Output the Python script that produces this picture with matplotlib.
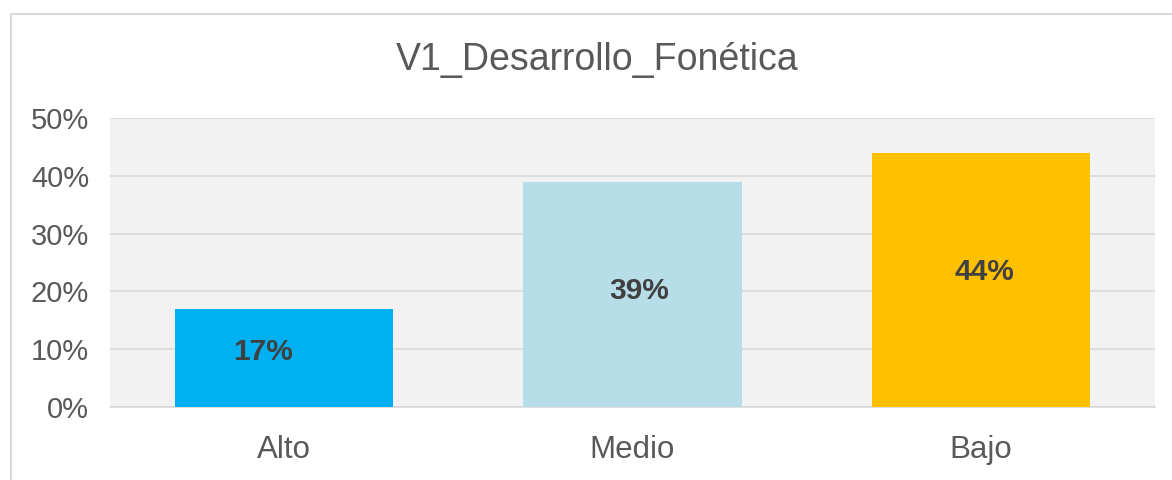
import matplotlib
matplotlib.use("Agg")
import matplotlib.pyplot as plt
from matplotlib.patches import Rectangle
from matplotlib.ticker import PercentFormatter

categories = ["Alto", "Medio", "Bajo"]
values = [17, 39, 44]
bar_colors = ["#00B0F0", "#B7DEE8", "#FFC000"]
title = "V1_Desarrollo_Fonética"

plt.rcParams['font.family'] = ['Liberation Sans', 'DejaVu Sans']

fig = plt.figure(figsize=(11.72, 4.8), dpi=100)
fig.patch.set_facecolor("white")
ax = fig.add_axes([110/1172, 1-407/480, (1155-110)/1172, (407-118)/480])
ax.set_facecolor("#F2F2F2")

x = range(len(categories))
bars = ax.bar(x, values, width=0.627, color=bar_colors, zorder=3)

ax.set_ylim(0, 50)
ax.set_xlim(-0.5, 2.5)
ax.set_yticks([0, 10, 20, 30, 40, 50])
ax.yaxis.set_major_formatter(PercentFormatter(decimals=0))
ax.grid(axis="y", color="#D9D9D9", linewidth=1.2, zorder=0)
for s in ["top", "right", "left"]:
    ax.spines[s].set_visible(False)
ax.spines["bottom"].set_color("#D9D9D9")
ax.spines["bottom"].set_linewidth(1.2)
ax.tick_params(axis="both", length=0, colors="#595959")
ax.tick_params(axis="y", labelsize=21, pad=15)
ax.tick_params(axis="x", labelsize=22.5, pad=20)
ax.set_xticks(list(x))
ax.set_xticklabels(categories)

label_dx = [-0.06, 0.02, 0.01]
label_dy = [1.1, 0.5, 1.4]
for i, v in enumerate(values):
    ax.text(i + label_dx[i], v / 2 + label_dy[i], f"{v}%", ha="center", va="center",
            fontsize=21.5, fontweight="bold", color="#404040", zorder=4)

fig.text(597/1172, 1-60/480, title, ha="center", va="center", fontsize=27, color="#595959")

border = Rectangle((11/1172, -0.1), 1.2, 1.1 - 14/480, transform=fig.transFigure,
                   fill=False, edgecolor="#D9D9D9", linewidth=1.5, clip_on=False)
fig.add_artist(border)

fig.savefig("out.png", dpi=100, facecolor="white")
